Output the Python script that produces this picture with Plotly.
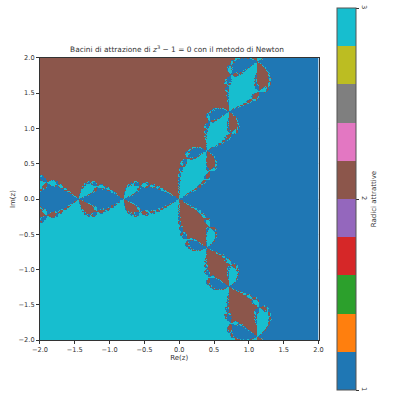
import numpy as np
import plotly.graph_objects as go

# Domain and grid of the complex plane
re_min, re_max = -2.0, 2.0
im_min, im_max = -2.0, 2.0
n_points = 400
max_iter = 60

# Roots of z^3 - 1 (index 1, 2, 3)
roots = [1 + 0j, complex(-0.5, np.sqrt(3) / 2), complex(-0.5, -np.sqrt(3) / 2)]
root_labels = [1, 2, 3]

tick_vals = [-2.0, -1.5, -1.0, -0.5, 0.0, 0.5, 1.0, 1.5, 2.0]
tick_text = ["−2.0", "−1.5", "−1.0", "−0.5", "0.0", "0.5", "1.0", "1.5", "2.0"]

# tab10 colours
tab10 = ["#1f77b4", "#ff7f0e", "#2ca02c", "#d62728", "#9467bd",
         "#8c564b", "#e377c2", "#7f7f7f", "#bcbd22", "#17becf"]

re = np.linspace(re_min, re_max, n_points)
im = np.linspace(im_min, im_max, n_points)
Z = re[None, :] + 1j * im[:, None]
with np.errstate(all="ignore"):
    for _ in range(max_iter):
        Z = Z - (Z**3 - 1) / (3 * Z**2)
dist = np.stack([np.abs(Z - r) for r in roots])
basin = np.array(root_labels)[np.nanargmin(np.nan_to_num(dist, nan=1e9), axis=0)]

colorscale = []
for i, c in enumerate(tab10):
    colorscale.append([i / 10, c])
    colorscale.append([(i + 1) / 10, c])

W = H = 400

fig = go.Figure(go.Heatmap(
    x=re, y=im, z=basin, zmin=1, zmax=3,
    colorscale=colorscale, hoverinfo="skip",
    colorbar=dict(
        tickvals=[1, 2, 3], ticktext=["1", "2", "3"], tickangle=90,
        ticks="outside", ticklen=3, tickcolor="#333",
        tickfont=dict(size=6.6, color="#333"),
        title=dict(text="Radici attrattive", side="right", font=dict(size=7, color="#333")),
        thickness=19, thicknessmode="pixels",
        len=382, lenmode="pixels", x=340 / W, xanchor="left",
        y=(H - 199) / H, yanchor="middle",
        outlinewidth=1, outlinecolor="#555", xpad=0, ypad=0,
    ),
))

axis_common = dict(
    range=[-2, 2], tickvals=tick_vals, ticktext=tick_text,
    showgrid=True, gridcolor="rgba(220,220,220,0.45)", griddash="dot", gridwidth=1,
    showline=True, linecolor="#333", linewidth=1, mirror=True,
    ticks="outside", ticklen=3, tickcolor="#333",
    tickfont=dict(size=6.6, color="#333"), zeroline=False, layer="above traces",
)

fig.update_layout(
    width=W, height=H, autosize=False,
    margin=dict(l=0, r=0, t=0, b=0),
    paper_bgcolor="white", plot_bgcolor="white",
    font=dict(family="DejaVu Sans", color="#333"),
    title=dict(text="Bacini di attrazione di <i>z</i><sup>3</sup> − 1 = 0 con il metodo di Newton",
               x=177 / W, xanchor="center", y=(H - 52) / H, yanchor="bottom",
               font=dict(size=7.4, color="#333")),
    xaxis=dict(domain=[33 / W, 321 / W],
               title=dict(text="Re(z)", font=dict(size=7), standoff=2), **axis_common),
    yaxis=dict(domain=[57 / H, 345 / H],
               title=dict(text="Im(z)", font=dict(size=7), standoff=2), **axis_common),
)

fig.write_html("out.html", config={"displayModeBar": False},
               post_script="document.body.style.margin='0px';document.body.style.overflow='hidden';")
